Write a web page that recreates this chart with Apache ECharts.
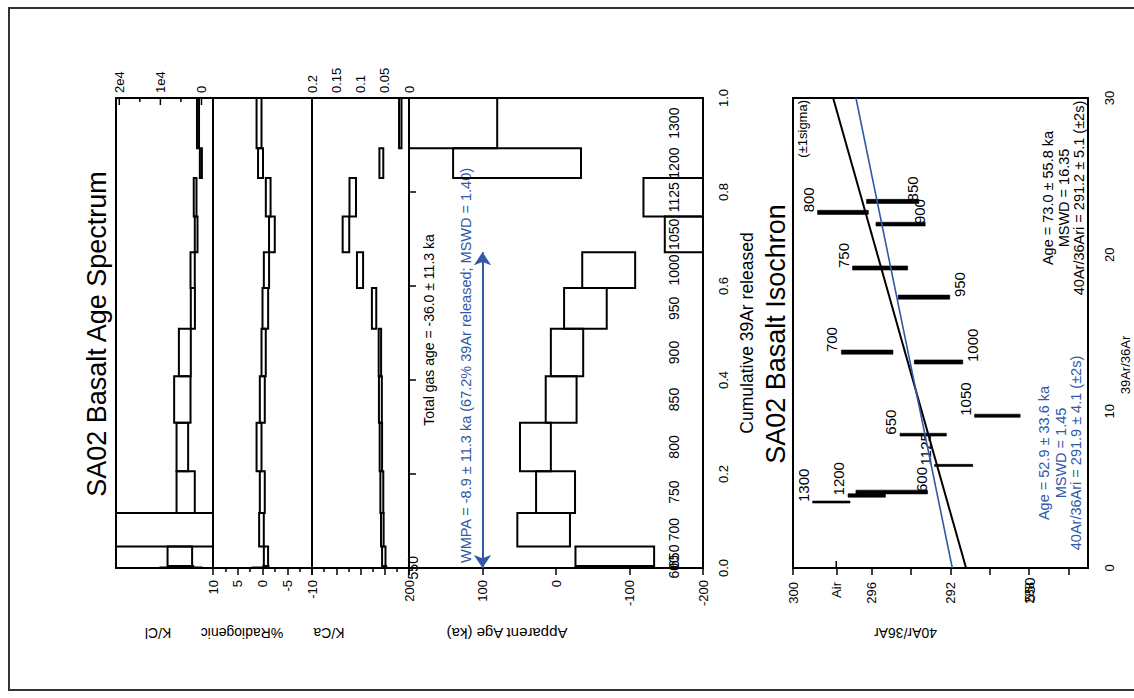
<!DOCTYPE html>
<html>
<head>
<meta charset="utf-8">
<title>SA02 Basalt Age Spectrum and Isochron</title>
<script src="https://cdn.jsdelivr.net/npm/echarts@6/dist/echarts.min.js"></script>
<style>
  html, body { margin: 0; padding: 0; background: #fff; overflow: hidden; }
  #page { position: absolute; left: 0; top: 0; width: 1134px; height: 698px; }
  /* the sheet is laid out in portrait and turned a quarter turn to landscape */
  #sheet { position: absolute; left: 0; top: 0; width: 698px; height: 1134px;
           transform-origin: 0 0; transform: translate(0, 698px) rotate(-90deg); }
  #frame { position: absolute; left: 8px; top: 7px; width: 1140px; height: 680px;
           border: 2px solid #333; border-right: none; z-index: 2; pointer-events: none; }
</style>
</head>
<body>
<div id="page"><div id="sheet"></div><div id="frame"></div></div>
<script>
// ---- heating steps (deg C) and cumulative 39Ar released at the end of each step
const steps   = ['550','600','650','700','750','800','850','900','950','1000','1050','1125','1200','1300'];
const cumEnd  = [0.001, 0.004, 0.046, 0.117, 0.206, 0.309, 0.408, 0.509, 0.596, 0.672, 0.748, 0.830, 0.893, 1.000];

// apparent age (ka) and error half-width
const ageKa   = [330, -78, -80, 16.8, 0.6, 28, -7, -15, -40, -71.7, -190, -180, 53, 160];
const ageErr  = [100, 50, 53.5, 35.8, 26.5, 21, 21, 22, 29, 36, 42, 61, 87, 80];

// K/Cl
const kCl     = [5000, 5000, 5270, 9000, 3850, 4660, 4660, 4050, 2100, 2150, 1300, 1550, 150, 850];
const kClErr  = [5000, 3000, 2990, 14000, 2220, 1410, 1990, 1450, 500, 520, 330, 330, 250, 250];

// % radiogenic 40Ar
const radio    = [1.0, -0.7, -0.7, 0.21, 0.04, 0.7, 0.04, -0.23, -0.57, -0.8, -1.9, -1.15, 0.4, 0.7];
const radioErr = [1.0, 0.5, 0.43, 0.47, 0.5, 0.5, 0.5, 0.43, 0.57, 0.53, 0.58, 0.48, 0.5, 0.5];

// K/Ca
const kCa     = [0.050, 0.050, 0.052, 0.055, 0.056, 0.058, 0.059, 0.060, 0.072, 0.101, 0.130, 0.116, 0.057, 0.018];
const kCaErr  = [0.003, 0.003, 0.0035, 0.0027, 0.003, 0.0025, 0.003, 0.0025, 0.0045, 0.0063, 0.0068, 0.0067, 0.004, 0.0025];

// isochron: 39Ar/36Ar and 40Ar/36Ar with error half-widths
const ar39ar36    = [-2.2, 4.85, 8.51, 13.78, 19.15, 22.7, 23.4, 21.95, 17.29, 13.15, 9.72, 6.55, 4.63, 4.21];
const ar39ar36Err = [0, 0.12, 0.09, 0.13, 0.13, 0.13, 0.13, 0.12, 0.13, 0.13, 0.10, 0.065, 0.11, 0.065];
const ar40ar36    = [288, 294.98, 293.38, 296.23, 295.57, 297.46, 294.93, 294.53, 293.34, 292.6, 289.61, 291.83, 296.25, 298.05];
const ar40ar36Err = [0, 1.82, 1.18, 1.31, 1.40, 1.29, 1.33, 1.25, 1.31, 1.23, 1.16, 0.97, 0.95, 0.95];

// isochron fits: all steps (black) and selected steps (blue)
const fitAll = { intercept: 291.2, slope: 0.2253 };
const fitSel = { intercept: 291.9, slope: 0.1633 };

// plateau: fraction of 39Ar in the WMPA steps
const plateauFrac = 0.672;

// tick values
const kClMajor     = [0, 10000, 20000];
const kClMinor     = [5000, 15000];
const isoYTicks    = [300, 296, 294, 292, 290, 288, 286];
const isoYLabels   = [300, 296, 292, 288];
const airRatio     = 297.8;

// ---------------------------------------------------------------------------
const FONT = '"Liberation Sans", Arial, Helvetica, sans-serif';
const BLUE = '#3159a8';
const INK = '#000';
const AGE_MIN = -200, AGE_MAX = 200;
const STEP_LABEL_AGE = -160;
const KCL_MIN = -2800, KCL_MAX = 20800;

const chart = echarts.init(document.getElementById('sheet'), null, { renderer: 'svg', width: 698, height: 1134 });

const stepStart = i => (i === 0 ? 0 : cumEnd[i - 1]);

function grid(top, height) {
  return { left: 130, width: 470, top, height, show: true, borderColor: INK, borderWidth: 2, backgroundColor: 'transparent' };
}

const labelStyle = { color: INK, fontSize: 13, fontFamily: FONT };
const tickLine = { color: INK, width: 1.5 };

function hiddenX(gridIndex) {
  return { gridIndex, type: 'value', min: 0, max: 1, show: false };
}

function nameAxis(gridIndex, min, max, name, shift, size) {
  return {
    gridIndex, type: 'value', min, max, position: 'left',
    axisLine: { show: false }, axisTick: { show: false }, axisLabel: { show: false }, splitLine: { show: false },
    name, nameLocation: 'middle', nameRotate: 90, nameGap: 58,
    nameTextStyle: { color: INK, fontSize: size || 14, fontFamily: FONT, padding: [0, 0, 0, shift] }
  };
}

// step boxes (value +/- error over each step's 39Ar interval), clipped to the panel
function stepBoxes(xAxisIndex, yAxisIndex, vals, errs) {
  return {
    type: 'custom', xAxisIndex, yAxisIndex, silent: true,
    data: steps.map((s, i) => [stepStart(i), cumEnd[i], vals[i] - errs[i], vals[i] + errs[i]]),
    renderItem(params, api) {
      const a = api.coord([api.value(0), api.value(3)]);
      const b = api.coord([api.value(1), api.value(2)]);
      const r = echarts.graphic.clipRectByRect(
        { x: a[0], y: a[1], width: b[0] - a[0], height: b[1] - a[1] }, params.coordSys);
      if (!r) return null;
      return { type: 'rect', shape: r, style: { fill: 'none', stroke: INK, lineWidth: 2 } };
    }
  };
}

// short inward ticks on the right edge of a panel, at the given values
function rightTicks(xAxisIndex, yAxisIndex, values, len) {
  return {
    type: 'custom', xAxisIndex, yAxisIndex, silent: true,
    data: values.map(v => [1, v]),
    renderItem(params, api) {
      const p = api.coord([api.value(0), api.value(1)]);
      return { type: 'line', shape: { x1: p[0], y1: p[1], x2: p[0] - len, y2: p[1] },
               style: { stroke: INK, lineWidth: 1.5 } };
    }
  };
}

// which side of its error bar each isochron label sits on
const isoLabelSide = { '950': 'below', '1000': 'below', '850': 'end', '900': 'end', '600': 'end', '550': 'mid' };

const option = {
  animation: false,
  backgroundColor: '#fff',
  grid: [grid(116, 97), grid(213, 99), grid(312, 97), grid(409, 294), grid(793, 295)],
  xAxis: [
    hiddenX(0), hiddenX(1), hiddenX(2),
    {
      gridIndex: 3, type: 'value', min: 0, max: 1, interval: 0.2, position: 'bottom',
      axisLine: { show: false }, axisTick: { show: false }, splitLine: { show: false },
      axisLabel: Object.assign({ margin: 14, formatter: v => v.toFixed(1) }, labelStyle),
      name: 'Cumulative 39Ar released', nameLocation: 'middle', nameGap: 35,
      nameTextStyle: { color: INK, fontSize: 17.5, fontFamily: FONT }
    },
    {
      gridIndex: 3, type: 'value', min: 0, max: 1, interval: 0.2, position: 'top',
      axisLine: { show: false }, axisLabel: { show: false }, splitLine: { show: false },
      axisTick: { show: true, inside: true, length: 7, lineStyle: tickLine }
    },
    {
      gridIndex: 4, type: 'value', min: 0, max: 30, interval: 10, position: 'bottom',
      axisLine: { show: false }, axisTick: { show: false }, splitLine: { show: false },
      axisLabel: Object.assign({ margin: 15 }, labelStyle),
      name: '39Ar/36Ar', nameLocation: 'middle', nameGap: 31,
      nameTextStyle: { color: INK, fontSize: 13, fontFamily: FONT, padding: [0, 64, 0, 0] }
    }
  ],
  yAxis: [
    // 0: K/Cl values, right side
    {
      gridIndex: 0, type: 'value', min: KCL_MIN, max: KCL_MAX, position: 'right',
      axisLine: { show: false }, splitLine: { show: false }, axisTick: { show: false },
      axisLabel: Object.assign({ margin: 5, customValues: kClMajor,
        formatter: v => (v === 0 ? '0' : (v / 10000) + 'e4') }, labelStyle)
    },
    // 1: K/Cl name on the left
    nameAxis(0, KCL_MIN, KCL_MAX, 'K/Cl', 13),
    // 2: % radiogenic
    {
      gridIndex: 1, type: 'value', min: -10, max: 10, interval: 5, position: 'left',
      axisLine: { show: false }, splitLine: { show: false },
      axisTick: { show: true, inside: false, length: 7, lineStyle: tickLine },
      minorTick: { show: true, splitNumber: 2, length: 4, lineStyle: tickLine },
      axisLabel: Object.assign({ margin: 12 }, labelStyle),
      name: '%Radiogenic', nameLocation: 'middle', nameRotate: 90, nameGap: 58,
      nameTextStyle: { color: INK, fontSize: 14, fontFamily: FONT, padding: [0, 0, 0, 41] }
    },
    // 3: K/Ca values, right side
    {
      gridIndex: 2, type: 'value', min: 0, max: 0.2, interval: 0.05, position: 'right',
      axisLine: { show: false }, splitLine: { show: false },
      axisTick: { show: true, inside: true, length: 7, lineStyle: tickLine },
      minorTick: { show: true, splitNumber: 2, length: 4, lineStyle: tickLine },
      axisLabel: Object.assign({ margin: 5 }, labelStyle)
    },
    // 4: K/Ca name on the left
    nameAxis(2, 0, 0.2, 'K/Ca', 63),
    // 5: apparent age
    {
      gridIndex: 3, type: 'value', min: AGE_MIN, max: AGE_MAX, interval: 100, position: 'left',
      axisLine: { show: false }, splitLine: { show: false },
      axisTick: { show: true, inside: false, length: 7, lineStyle: tickLine },
      axisLabel: Object.assign({ margin: 12 }, labelStyle),
      name: 'Apparent Age (ka)', nameLocation: 'middle', nameRotate: 90, nameGap: 58,
      nameTextStyle: { color: INK, fontSize: 15, fontFamily: FONT, padding: [0, 0, 0, 98] }
    },
    // 6: isochron 40Ar/36Ar
    {
      gridIndex: 4, type: 'value', min: 285, max: 300, position: 'left',
      axisLine: { show: false }, splitLine: { show: false },
      axisTick: { show: true, inside: false, length: 7, lineStyle: tickLine, customValues: isoYTicks.concat([airRatio]) },
      axisLabel: Object.assign({ margin: 14, customValues: isoYLabels.concat([airRatio]),
        formatter: v => (Math.abs(v - airRatio) < 1e-6 ? 'Air' : String(v)) }, labelStyle),
      name: '40Ar/36Ar', nameLocation: 'middle', nameRotate: 90, nameGap: 58,
      nameTextStyle: { color: INK, fontSize: 14, fontFamily: FONT, padding: [0, 0, 0, 70] }
    }
  ],
  series: [
    rightTicks(0, 0, kClMajor, 7),
    rightTicks(0, 0, kClMinor, 4),
    stepBoxes(0, 0, kCl, kClErr),
    stepBoxes(1, 2, radio, radioErr),
    stepBoxes(2, 3, kCa, kCaErr),
    stepBoxes(3, 5, ageKa, ageErr),
    // step temperature labels under the age spectrum
    {
      type: 'custom', xAxisIndex: 3, yAxisIndex: 5, silent: true,
      data: steps.map((s, i) => [(stepStart(i) + cumEnd[i]) / 2, ageKa[i] - ageErr[i]]),
      renderItem(params, api) {
        const offHigh = api.value(1) > AGE_MAX;
        const p = api.coord([api.value(0), offHigh ? AGE_MAX : STEP_LABEL_AGE]);
        return {
          type: 'text', x: p[0], y: p[1] + (offHigh ? 4 : 0),
          style: { text: steps[params.dataIndex], fill: INK, fontSize: 14, fontFamily: FONT,
                   align: 'center', verticalAlign: 'middle' }
        };
      }
    },
    // plateau arrow
    {
      type: 'lines', coordinateSystem: 'cartesian2d', xAxisIndex: 3, yAxisIndex: 5, silent: true,
      symbol: ['arrow', 'arrow'], symbolSize: 13,
      lineStyle: { color: BLUE, width: 2, opacity: 1 },
      data: [{ coords: [[0, 100], [plateauFrac, 100]] }]
    },
    // isochron fit lines
    {
      type: 'line', xAxisIndex: 5, yAxisIndex: 6, showSymbol: false, silent: true, clip: true,
      lineStyle: { color: INK, width: 2 },
      data: [0, 30].map(x => [x, fitAll.intercept + fitAll.slope * x])
    },
    {
      type: 'line', xAxisIndex: 5, yAxisIndex: 6, showSymbol: false, silent: true, clip: true,
      lineStyle: { color: BLUE, width: 1.6 },
      data: [0, 30].map(x => [x, fitSel.intercept + fitSel.slope * x])
    },
    // inner half of the atmospheric-ratio cross tick
    {
      type: 'custom', xAxisIndex: 5, yAxisIndex: 6, silent: true,
      data: [[0, airRatio]],
      renderItem(params, api) {
        const p = api.coord([api.value(0), api.value(1)]);
        return { type: 'line', shape: { x1: p[0], y1: p[1], x2: p[0] + 7, y2: p[1] },
                 style: { stroke: INK, lineWidth: 1.5 } };
      }
    },
    // isochron error bars
    {
      type: 'custom', xAxisIndex: 5, yAxisIndex: 6, silent: true,
      data: steps.map((s, i) => [ar39ar36[i], ar39ar36Err[i], ar40ar36[i], ar40ar36Err[i]]),
      renderItem(params, api) {
        const x = api.value(0), xe = api.value(1), y = api.value(2), ye = api.value(3);
        if (!ye) return null;
        const a = api.coord([x - xe, y + ye]);
        const b = api.coord([x + xe, y - ye]);
        const r = echarts.graphic.clipRectByRect(
          { x: a[0], y: a[1], width: b[0] - a[0], height: b[1] - a[1] }, params.coordSys);
        if (!r) return null;
        return { type: 'rect', shape: r, style: { fill: INK, stroke: INK, lineWidth: 0.6 } };
      }
    },
    // isochron step labels
    {
      type: 'custom', xAxisIndex: 5, yAxisIndex: 6, silent: true,
      data: steps.map((s, i) => [ar39ar36[i], ar40ar36[i], ar40ar36Err[i]]),
      renderItem(params, api) {
        const x = api.value(0), y = api.value(1), ye = api.value(2);
        const side = isoLabelSide[steps[params.dataIndex]] || 'above';
        const p = api.coord([x, y]);
        const top = api.coord([x, y + ye])[1];
        const bot = api.coord([x, y - ye])[1];
        let ty = top - 2, va = 'bottom';
        if (side === 'below') { ty = bot + 2; va = 'top'; }
        else if (side === 'end') { ty = bot - 6; va = 'middle'; }
        else if (side === 'mid') { ty = p[1]; va = 'middle'; }
        return {
          type: 'text', x: p[0], y: ty,
          style: { text: steps[params.dataIndex], fill: INK, fontSize: 15, fontFamily: FONT,
                   align: 'left', verticalAlign: va }
        };
      }
    }
  ],
  graphic: [
    { type: 'text', x: 364, y: 97, style: { text: 'SA02 Basalt Age Spectrum', fill: INK, fontSize: 27, fontFamily: FONT, align: 'center', verticalAlign: 'middle' } },
    { type: 'text', x: 364, y: 776, style: { text: 'SA02 Basalt Isochron', fill: INK, fontSize: 27, fontFamily: FONT, align: 'center', verticalAlign: 'middle' } },
    { type: 'text', x: 368, y: 429, style: { text: 'Total gas age = -36.0 \u00b1 11.3 ka', fill: INK, fontSize: 14, fontFamily: FONT, align: 'center', verticalAlign: 'middle' } },
    { type: 'text', x: 135, y: 466, style: { text: 'WMPA = -8.9 \u00b1 11.3 ka (67.2% 39Ar released; MSWD = 1.40)', fill: BLUE, fontSize: 14.5, fontFamily: FONT, align: 'left', verticalAlign: 'middle' } },
    { type: 'text', x: 598, y: 802, style: { text: '(\u00b11sigma)', fill: INK, fontSize: 13, fontFamily: FONT, align: 'right', verticalAlign: 'middle' } },
    { type: 'text', x: 500, y: 1048, style: { text: 'Age = 73.0 \u00b1 55.8 ka', fill: INK, fontSize: 14.5, fontFamily: FONT, align: 'center', verticalAlign: 'middle' } },
    { type: 'text', x: 500, y: 1064, style: { text: 'MSWD = 16.35', fill: INK, fontSize: 14.5, fontFamily: FONT, align: 'center', verticalAlign: 'middle' } },
    { type: 'text', x: 500, y: 1079, style: { text: '40Ar/36Ari = 291.2 \u00b1 5.1 (\u00b12s)', fill: INK, fontSize: 14.5, fontFamily: FONT, align: 'center', verticalAlign: 'middle' } },
    { type: 'text', x: 245, y: 1044, style: { text: 'Age = 52.9 \u00b1 33.6 ka', fill: BLUE, fontSize: 14.5, fontFamily: FONT, align: 'center', verticalAlign: 'middle' } },
    { type: 'text', x: 245, y: 1061, style: { text: 'MSWD = 1.45', fill: BLUE, fontSize: 14.5, fontFamily: FONT, align: 'center', verticalAlign: 'middle' } },
    { type: 'text', x: 245, y: 1076, style: { text: '40Ar/36Ari = 291.9 \u00b1 4.1 (\u00b12s)', fill: BLUE, fontSize: 14.5, fontFamily: FONT, align: 'center', verticalAlign: 'middle' } }
  ]
};

chart.setOption(option);
</script>
</body>
</html>
